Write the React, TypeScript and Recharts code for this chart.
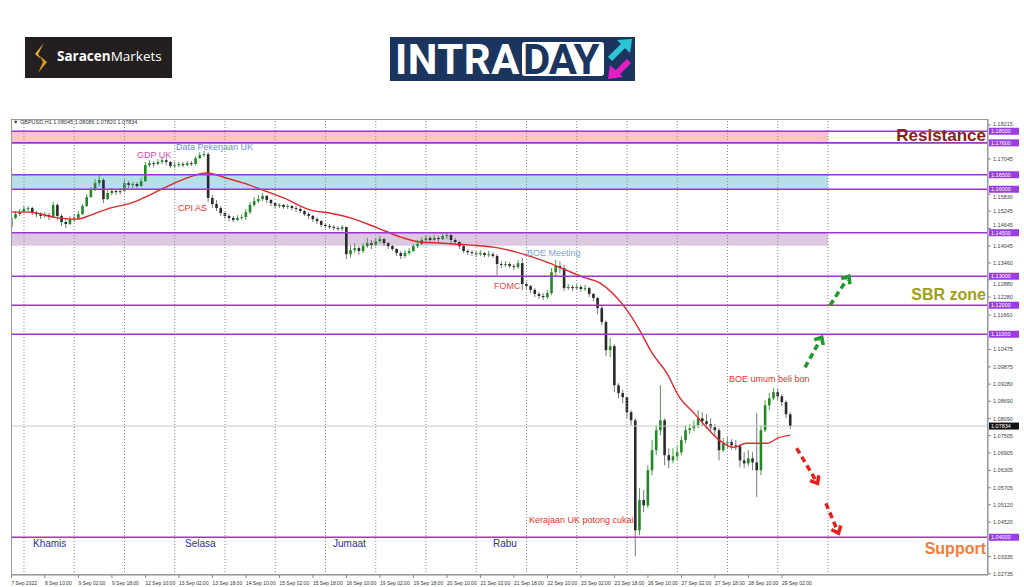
import React from 'react';
import {
  ComposedChart,
  Bar,
  Line,
  XAxis,
  YAxis,
  ReferenceLine,
  ReferenceArea,
} from 'recharts';

// GBPUSD H1, shown here as 2-hour candles. h = trading hour index from 7 Sep 18:00
const firstOpen = 1.147;

const closes = [
  1.1501, 1.1514, 1.1521,
  1.1532, 1.1535, 1.1518, 1.1514, 1.1508, 1.1511, 1.1504, 1.1546, 1.1508, 1.1487, 1.148, 1.1497,
  1.1501, 1.1514, 1.1542, 1.1573, 1.1597, 1.1621, 1.1632, 1.1566, 1.1587, 1.1594, 1.159, 1.1594,
  1.1621, 1.1615, 1.1618, 1.1611, 1.1628, 1.1683, 1.169, 1.1687, 1.1694, 1.17, 1.1694, 1.168,
  1.1683, 1.1687, 1.1683, 1.169, 1.1687, 1.1707, 1.1718, 1.1721, 1.157, 1.1549, 1.1535, 1.1518,
  1.1508, 1.1501, 1.1494, 1.1501, 1.1504, 1.1521, 1.1546, 1.1559, 1.1566, 1.1577, 1.1563, 1.1552,
  1.1542, 1.1546, 1.1539, 1.1542, 1.1535, 1.1532, 1.1525, 1.1514, 1.1508, 1.1497, 1.149, 1.1477,
  1.1473, 1.147, 1.1466, 1.1463, 1.147, 1.1376, 1.139, 1.1397, 1.1387, 1.1404, 1.1414, 1.1408,
  1.1421, 1.1428, 1.1414, 1.1404, 1.1394, 1.138, 1.137, 1.138, 1.1387, 1.1404, 1.1411, 1.1425,
  1.1432, 1.1425, 1.1432, 1.1428, 1.1439, 1.1442, 1.1425, 1.1418, 1.1404, 1.1387, 1.1383, 1.138,
  1.1376, 1.138, 1.1373, 1.1376, 1.137, 1.1342, 1.1339, 1.1342, 1.1335, 1.1332, 1.1345, 1.1273,
  1.1266, 1.1253, 1.1239, 1.1232, 1.1228, 1.1242, 1.1314, 1.1335, 1.1328, 1.1259, 1.1263, 1.1259,
  1.1263, 1.1256, 1.1259, 1.1239, 1.1225, 1.119, 1.1142, 1.1045, 1.1059, 1.0924, 1.0897, 1.0883,
  1.0831, 1.0803, 1.0424, 1.0528, 1.051, 1.0631, 1.07, 1.0769, 1.0803, 1.0683, 1.0665, 1.0679,
  1.0693, 1.0735, 1.0769, 1.0776, 1.0786, 1.081, 1.08, 1.079, 1.0779, 1.0769, 1.07, 1.0724,
  1.0728, 1.0717, 1.0714, 1.0665, 1.0655, 1.0672, 1.0658, 1.0631, 1.0769, 1.0855, 1.0879, 1.09,
  1.0886, 1.0866, 1.0824, 1.0783,
];

const highs = [
  1.1514, 1.1525, 1.1532,
  1.1542, 1.1542, 1.1539, 1.1525, 1.1521, 1.1521, 1.1518, 1.1556, 1.1552, 1.1514, 1.1501, 1.1508,
  1.1514, 1.1525, 1.1549, 1.1583, 1.1608, 1.1635, 1.1649, 1.1638, 1.1597, 1.1604, 1.1601, 1.1604,
  1.1632, 1.1628, 1.1625, 1.1625, 1.1638, 1.1694, 1.17, 1.1697, 1.1704, 1.1711, 1.1707, 1.1697,
  1.1694, 1.1694, 1.1694, 1.1697, 1.1697, 1.1714, 1.1728, 1.1732, 1.1728, 1.158, 1.1563, 1.1542,
  1.1521, 1.1514, 1.1508, 1.1511, 1.1514, 1.1532, 1.1556, 1.1573, 1.158, 1.1587, 1.158, 1.1566,
  1.1556, 1.1552, 1.1549, 1.1549, 1.1546, 1.1542, 1.1539, 1.1528, 1.1521, 1.1511, 1.1504, 1.1494,
  1.1483, 1.148, 1.1477, 1.1473, 1.1477, 1.147, 1.1408, 1.1414, 1.1404, 1.1414, 1.1432, 1.1425,
  1.1432, 1.1439, 1.1432, 1.1418, 1.1408, 1.1397, 1.1387, 1.139, 1.1397, 1.1411, 1.1425, 1.1435,
  1.1442, 1.1439, 1.1442, 1.1439, 1.1449, 1.1452, 1.1445, 1.1432, 1.1421, 1.1408, 1.1394, 1.139,
  1.1387, 1.139, 1.1383, 1.1387, 1.1383, 1.1376, 1.1352, 1.1352, 1.1349, 1.1342, 1.1356, 1.1363,
  1.128, 1.127, 1.1259, 1.1246, 1.1242, 1.1253, 1.1328, 1.1356, 1.1352, 1.1339, 1.1273, 1.127,
  1.1273, 1.127, 1.127, 1.1263, 1.1242, 1.1228, 1.12, 1.1148, 1.1087, 1.1066, 1.0931, 1.0908,
  1.0886, 1.0838, 1.081, 1.0569, 1.0562, 1.0648, 1.0735, 1.0786, 1.0924, 1.081, 1.0707, 1.0707,
  1.0714, 1.0748, 1.0786, 1.079, 1.0803, 1.0838, 1.0831, 1.0824, 1.081, 1.079, 1.0776, 1.0742,
  1.0745, 1.0738, 1.0735, 1.0721, 1.0693, 1.07, 1.0693, 1.0828, 1.0786, 1.0872, 1.0897, 1.0914,
  1.0911, 1.0893, 1.0872, 1.0831,
];

const lows = [
  1.1466, 1.1497, 1.1508,
  1.1518, 1.1521, 1.1511, 1.1504, 1.1497, 1.1501, 1.1494, 1.1501, 1.1494, 1.1473, 1.1466, 1.1477,
  1.1487, 1.1494, 1.1511, 1.1539, 1.157, 1.1594, 1.1611, 1.1552, 1.1563, 1.158, 1.158, 1.1583,
  1.159, 1.1604, 1.1604, 1.1604, 1.1608, 1.1625, 1.1676, 1.1676, 1.1683, 1.1687, 1.1683, 1.1673,
  1.1673, 1.1676, 1.1676, 1.168, 1.168, 1.1683, 1.1704, 1.1711, 1.1556, 1.1535, 1.1525, 1.1508,
  1.1497, 1.149, 1.1487, 1.149, 1.1494, 1.1494, 1.1514, 1.1539, 1.1552, 1.1559, 1.1552, 1.1542,
  1.1535, 1.1535, 1.1532, 1.1532, 1.1528, 1.1521, 1.1518, 1.1508, 1.1497, 1.1487, 1.148, 1.147,
  1.1466, 1.1463, 1.1459, 1.1456, 1.1456, 1.1359, 1.1366, 1.138, 1.1373, 1.138, 1.1397, 1.1394,
  1.1404, 1.1414, 1.1404, 1.1394, 1.1387, 1.137, 1.1359, 1.1363, 1.1373, 1.1383, 1.1397, 1.1408,
  1.1418, 1.1414, 1.1421, 1.1418, 1.1425, 1.1428, 1.1414, 1.1408, 1.1394, 1.138, 1.1373, 1.137,
  1.1366, 1.137, 1.1366, 1.1366, 1.1363, 1.1304, 1.1328, 1.1332, 1.1328, 1.1321, 1.1325, 1.1253,
  1.1256, 1.1242, 1.1228, 1.1221, 1.1218, 1.1221, 1.1235, 1.13, 1.1311, 1.1249, 1.1253, 1.1249,
  1.1253, 1.1246, 1.1249, 1.1228, 1.1214, 1.1169, 1.1131, 1.1024, 1.1021, 1.09, 1.0879, 1.0862,
  1.081, 1.0786, 1.0334, 1.0407, 1.0486, 1.05, 1.0614, 1.0683, 1.0752, 1.0648, 1.0638, 1.0655,
  1.0665, 1.0683, 1.0724, 1.0755, 1.0766, 1.0776, 1.0783, 1.0773, 1.0762, 1.0748, 1.0665, 1.0693,
  1.0707, 1.0703, 1.07, 1.0641, 1.0638, 1.0645, 1.0631, 1.0538, 1.0614, 1.0762, 1.0838, 1.0872,
  1.0872, 1.0852, 1.081, 1.0773,
];

// moving average (red line), read at a few points
const maHours = [0, 9, 20, 31, 38, 47, 57, 66, 76, 85, 93, 103, 111, 120, 130, 143, 152, 162, 175, 186, 195, 206, 218, 233, 241, 249, 257, 265, 273, 281, 287, 294, 300, 306, 313, 319, 326, 332, 338, 345, 351, 361, 366, 372];
const maValues = [1.1521, 1.1521, 1.1504, 1.1497, 1.1511, 1.1535, 1.1552, 1.158, 1.1615, 1.1642, 1.1656, 1.1638, 1.1621, 1.1597, 1.157, 1.1528, 1.1518, 1.1501, 1.1466, 1.1435, 1.1418, 1.1414, 1.1408, 1.1397, 1.1383, 1.1366, 1.1345, 1.1321, 1.1297, 1.1277, 1.1242, 1.1183, 1.1114, 1.1035, 1.0966, 1.0883, 1.0828, 1.0779, 1.0735, 1.071, 1.0724, 1.0724, 1.0742, 1.0752];

const timeTicks = [0, 16, 32, 48, 64, 80, 96, 112, 128, 144, 160, 176, 192, 208, 224, 240, 256, 272, 288, 304, 320, 336, 352, 368];
const timeLabels = ['7 Sep 2022', '8 Sep 10:00', '9 Sep 02:00', '9 Sep 18:00', '12 Sep 10:00', '13 Sep 02:00', '13 Sep 18:00', '14 Sep 10:00', '15 Sep 02:00', '15 Sep 18:00', '16 Sep 10:00', '19 Sep 02:00', '19 Sep 18:00', '20 Sep 10:00', '21 Sep 02:00', '21 Sep 18:00', '22 Sep 10:00', '23 Sep 02:00', '23 Sep 18:00', '26 Sep 10:00', '27 Sep 02:00', '27 Sep 18:00', '28 Sep 10:00', '29 Sep 02:00'];

const dayStarts = [6, 30, 54, 78, 102, 126, 150, 174, 198, 222, 246, 270, 294, 318, 342, 366, 390];

// price scale labels that are not hidden behind the level tags
const priceTicks = [1.18215, 1.17045, 1.1583, 1.15245, 1.14645, 1.14045, 1.1346, 1.1288, 1.1228, 1.1166, 1.10475, 1.09875, 1.0928, 1.0869, 1.0809, 1.07505, 1.06905, 1.06305, 1.05705, 1.0512, 1.0452, 1.03335, 1.02735];

const levels = [1.18, 1.176, 1.165, 1.16, 1.145, 1.13, 1.12, 1.11, 1.04];
const lastPrice = 1.07834;

// zones: [y1, y2, colour]
const zones: [number, number, string][] = [
  [1.176, 1.18, '#fcc3cf'],
  [1.16, 1.165, '#b4e0e6'],
  [1.1405, 1.145, '#dcc8e0'],
];
const zoneEnd = 390;

// dashed arrows: [h1, p1, h2, p2]
const upArrows = [
  [379, 1.0986, 387, 1.109],
  [391, 1.12, 400, 1.13],
];
const downArrows = [
  [375, 1.0707, 385, 1.0586],
  [389, 1.0517, 395, 1.0414],
];

const candles = closes.map((c, i) => ({
  h: i * 2,
  open: i === 0 ? firstOpen : closes[i - 1],
  close: c,
  high: highs[i],
  low: lows[i],
  range: [lows[i], highs[i]],
}));

const maData = maHours.map((h, i) => ({ h, ma: maValues[i] }));

const FONT = '"Liberation Sans", Arial, sans-serif';
const PURPLE = '#9a35d0';
const PX_PER_UNIT = 2900; // approx. pixels per price unit, only used to nudge crowded labels

const Candle = (props: any) => {
  const { x, y, width, height, payload } = props;
  if (!payload || x == null || y == null || height == null) return null;
  const { open, close, high, low } = payload;
  const cx = x + width / 2;
  const top = Math.min(y, y + height);
  const hgt = Math.abs(height);
  const k = hgt / (high - low || 1);
  const py = (v: number) => top + (high - v) * k;
  const up = close >= open;
  const bTop = py(Math.max(open, close));
  const bBot = py(Math.min(open, close));
  return (
    <g>
      <line x1={cx} x2={cx} y1={top} y2={top + hgt} stroke={up ? '#4f9a4f' : '#7a7a7a'} strokeWidth={1} />
      <rect x={cx - 1.3} y={bTop} width={2.6} height={Math.max(1, bBot - bTop)} fill={up ? '#1f8a24' : '#2a2a2a'} />
    </g>
  );
};

const TimeTick = (props: any) => {
  const { x, y, payload } = props;
  const idx = timeTicks.indexOf(payload.value);
  return (
    <text x={x} y={y + 5} fontSize={5} fill="#333" textAnchor="start" fontFamily={FONT}>
      {idx >= 0 ? timeLabels[idx] : ''}
    </text>
  );
};

// price label, pushed a little away from a level tag when they would touch
const PriceTick = (props: any) => {
  const { x, y, payload } = props;
  const v = payload.value;
  let shift = 0;
  levels.forEach((l) => {
    const d = (l - v) * PX_PER_UNIT;
    if (Math.abs(d) < 7.5) shift = d > 0 ? 7.5 - d : -(7.5 + d);
  });
  return (
    <text x={x} y={y + 2 + shift} fontSize={5.5} fill="#444" fontFamily={FONT} textAnchor="start">
      {v.toFixed(5)}
    </text>
  );
};

const tag = (text: string, fill: string) => (p: any) => {
  const vb = p.viewBox;
  if (!vb) return null;
  const x0 = vb.x + vb.width + 1;
  return (
    <g>
      <rect x={x0} y={vb.y - 3.5} width={30} height={7} fill={fill} />
      <text x={x0 + 2} y={vb.y + 2} fontSize={5.5} fill="#fff" fontFamily={FONT}>{text}</text>
    </g>
  );
};

const arrowShape = (color: string) => (p: any) => {
  const { x1, y1, x2, y2 } = p;
  const ang = Math.atan2(y2 - y1, x2 - x1);
  const hl = 8;
  const a1 = ang + Math.PI - 0.7;
  const a2 = ang + Math.PI + 0.7;
  const pts = `${x2 + hl * Math.cos(a1)},${y2 + hl * Math.sin(a1)} ${x2},${y2} ${x2 + hl * Math.cos(a2)},${y2 + hl * Math.sin(a2)}`;
  const sx = x2 - 4 * Math.cos(ang);
  const sy = y2 - 4 * Math.sin(ang);
  return (
    <g>
      <line x1={x1} y1={y1} x2={sx} y2={sy} stroke={color} strokeWidth={3.5} strokeDasharray="6 4" />
      <polyline points={pts} fill="none" stroke={color} strokeWidth={3.5} />
    </g>
  );
};

const notes = [
  { text: 'GDP UK', left: 137, top: 151, color: '#e23fb8' },
  { text: 'Data Pekerjaan UK', left: 176, top: 143, color: '#6a8fdc' },
  { text: 'CPI AS', left: 178, top: 204, color: '#e5332a' },
  { text: 'BOE Meeting', left: 527, top: 249, color: '#7fa3d6' },
  { text: 'FOMC', left: 494, top: 282, color: '#e5483f' },
  { text: 'BOE umum beli bon', left: 729, top: 375, color: '#e5332a' },
  { text: 'Kerajaan UK potong cukai', left: 529, top: 516, color: '#e5332a' },
];
const days = [
  { text: 'Khamis', left: 33 },
  { text: 'Selasa', left: 185 },
  { text: 'Jumaat', left: 333 },
  { text: 'Rabu', left: 493 },
];

export default function App() {
  return (
    <div style={{ position: 'absolute', left: 0, top: 0, width: 1024, height: 587, background: '#fff', overflow: 'hidden', fontFamily: FONT }}>
      <ComposedChart width={1024} height={587} data={candles} margin={{ top: 119, right: 0, bottom: 0, left: 11 }}>
        {zones.map(([a, b, c]) => (
          <ReferenceArea key={c} x1={-0.2} x2={zoneEnd} y1={a} y2={b} fill={c} fillOpacity={1} stroke="none" ifOverflow="hidden" />
        ))}
        {dayStarts.map((h) => (
          <ReferenceLine key={'d' + h} x={h} stroke="#8a8a8a" strokeDasharray="1 2" />
        ))}
        <XAxis
          dataKey="h"
          type="number"
          domain={[-0.2, 466.4]}
          allowDataOverflow
          ticks={timeTicks}
          interval={0}
          tick={<TimeTick />}
          tickSize={3}
          height={12}
          stroke="#8a8a8a"
        />
        <YAxis
          orientation="right"
          type="number"
          domain={[1.02698, 1.18422]}
          allowDataOverflow
          ticks={priceTicks}
          interval={0}
          tick={<PriceTick />}
          tickSize={3}
          tickMargin={2}
          width={36}
          stroke="#8a8a8a"
        />
        <ReferenceLine y={lastPrice} stroke="#c8c8c8" label={tag(lastPrice.toFixed(5), '#111')} />
        <Bar dataKey="range" barSize={3} shape={<Candle />} isAnimationActive={false} />
        <Line data={maData} dataKey="ma" type="monotone" stroke="#e3262b" strokeWidth={1.4} dot={false} activeDot={false} isAnimationActive={false} />
        {levels.map((v) => (
          <ReferenceLine key={'l' + v} y={v} stroke={PURPLE} strokeWidth={1.6} label={tag(v.toFixed(5), '#9b3ce0')} />
        ))}
        {upArrows.map((a, i) => (
          <ReferenceLine key={'u' + i} segment={[{ x: a[0], y: a[1] }, { x: a[2], y: a[3] }]} ifOverflow="visible" shape={arrowShape('#1e9a2a')} />
        ))}
        {downArrows.map((a, i) => (
          <ReferenceLine key={'dn' + i} segment={[{ x: a[0], y: a[1] }, { x: a[2], y: a[3] }]} ifOverflow="visible" shape={arrowShape('#e8201c')} />
        ))}
      </ComposedChart>

      {/* frame + header */}
      <div style={{ position: 'absolute', left: 11, top: 119, width: 977, height: 456, border: '1px solid #9a9a9a', boxSizing: 'border-box', pointerEvents: 'none' }} />
      <div style={{ position: 'absolute', left: 13, top: 120, fontSize: 5.5, color: '#333', lineHeight: 1 }}>▼ GBPUSD,H1 1.08045 1.08086 1.07820 1.07834</div>

      {notes.map((n) => (
        <div key={n.text} style={{ position: 'absolute', left: n.left, top: n.top, fontSize: 9, lineHeight: 1, color: n.color, whiteSpace: 'nowrap' }}>{n.text}</div>
      ))}
      {days.map((d) => (
        <div key={d.text} style={{ position: 'absolute', left: d.left, top: 539, fontSize: 10, lineHeight: 1, color: '#2b2bb0' }}>{d.text}</div>
      ))}

      <div style={{ position: 'absolute', right: 38, top: 127, fontSize: 17, fontWeight: 700, color: '#8b1c1c', lineHeight: 1 }}>Resistance</div>
      <div style={{ position: 'absolute', right: 38, top: 287, fontSize: 16, fontWeight: 700, color: '#a0a012', lineHeight: 1 }}>SBR zone</div>
      <div style={{ position: 'absolute', right: 38, top: 541, fontSize: 16, fontWeight: 700, color: '#f47b3a', lineHeight: 1 }}>Support</div>

      {/* logos */}
      <div style={{ position: 'absolute', left: 25, top: 37, width: 147, height: 41, background: '#231f20' }}>
        <svg width={14} height={30} style={{ position: 'absolute', left: 9, top: 6 }}>
          <polygon points="10,0 1,11 7,16 4,11" fill="#f2b631" />
          <polygon points="6,13 13,19 4,30 9,19" fill="#d99a1e" />
        </svg>
        <div style={{ position: 'absolute', left: 32, top: 13, fontSize: 13.5, lineHeight: 1, color: '#fff', whiteSpace: 'nowrap', fontFamily: '"Open Sans", sans-serif' }}>
          <span style={{ fontWeight: 700 }}>Saracen</span>Markets
        </div>
      </div>
      <div style={{ position: 'absolute', left: 390, top: 37, width: 245, height: 44, background: '#1b355f' }}>
        <div style={{ position: 'absolute', left: 5, top: 2, fontSize: 42, fontWeight: 700, lineHeight: 1, color: '#fff', fontFamily: 'Roboto, sans-serif', letterSpacing: 0.5 }}>INTRA</div>
        <div style={{ position: 'absolute', left: 132, top: 5, width: 82, height: 34, background: '#fff', borderRadius: 3 }}>
          <div style={{ position: 'absolute', left: 1, top: -3, fontSize: 42, fontWeight: 700, lineHeight: 1, color: '#1b355f', fontFamily: 'Roboto, sans-serif', letterSpacing: -1 }}>DAY</div>
        </div>
        <svg width={30} height={44} style={{ position: 'absolute', left: 215, top: 0 }}>
          <line x1={5} y1={22} x2={19} y2={8} stroke="#2bc6d6" strokeWidth={6} />
          <polygon points="12,3 27,2 25,16" fill="#2bc6d6" />
          <line x1={24} y1={24} x2={11} y2={37} stroke="#e21fc6" strokeWidth={6} />
          <polygon points="3,42 5,28 18,40" fill="#e21fc6" />
        </svg>
      </div>
    </div>
  );
}
